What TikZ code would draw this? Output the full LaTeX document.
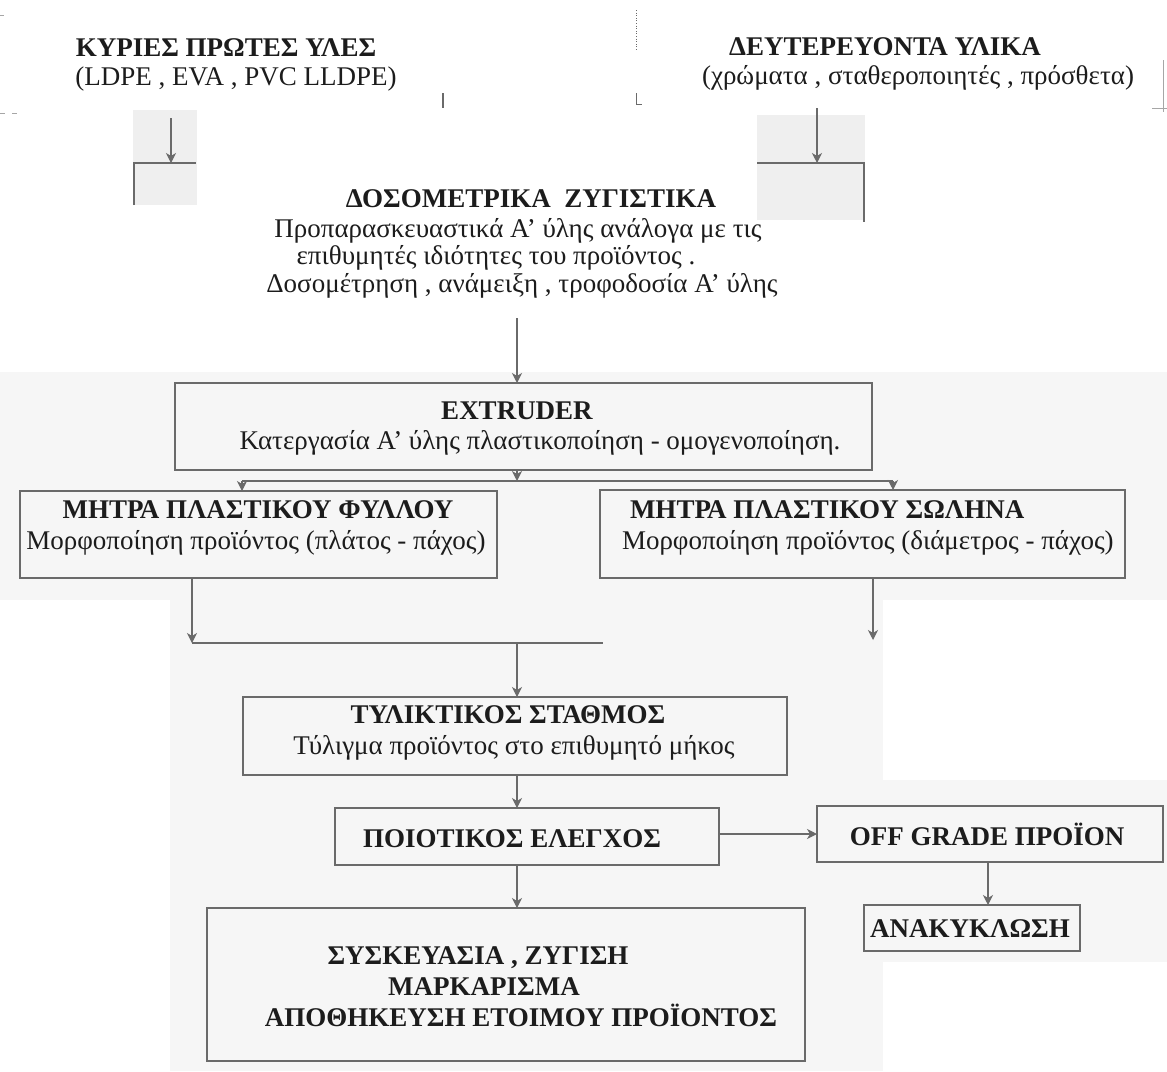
\documentclass[tikz,border=0pt]{standalone}
\usepackage{fontspec}
\setmainfont{Liberation Serif}
\usetikzlibrary{arrows.meta,calc}
\definecolor{ink}{HTML}{1C1C1C}
\definecolor{rule}{HTML}{6A6A6A}
\definecolor{tint}{HTML}{F6F6F6}
\definecolor{patch}{HTML}{EFEFEF}

\begin{document}
\begin{tikzpicture}[x=1pt,y=-1pt,
  every node/.style={inner sep=0pt,outer sep=0pt,text=ink},
  frame/.style={draw=none,inner sep=0pt},
  box/.style={draw=rule,line width=1.1pt,inner sep=0pt},
  head/.style={font=\fontsize{27}{31}\selectfont\bfseries,anchor=base},
  body/.style={font=\fontsize{27}{31}\selectfont,anchor=base},
  wire/.style={draw=rule,line width=1.1pt},
  faint/.style={draw=rule!60,line width=0.8pt},
  arr/.style={wire,-{Stealth[length=10pt,width=10pt,inset=3pt]}},
]
\useasboundingbox (0,0) rectangle (1167,1071);

% faint paper tone behind the process part of the chart
\fill[tint] (0,372) rectangle (1167,600);
\fill[tint] (170,600) rectangle (883,1071);
\fill[tint] (835,780) rectangle (1167,962);
\fill[patch] (133,110) rectangle (197,205);
\fill[patch] (757,115) rectangle (865,220);

% guide columns for the connectors
\coordinate (xa) at (171,0);
\coordinate (xb) at (817,0);
\coordinate (xm) at (517,0);
\coordinate (xl) at (242,0);
\coordinate (xr) at (893,0);
\coordinate (xf) at (192,0);
\coordinate (xs) at (873,0);
\coordinate (xo) at (988,0);

% ---- raw materials -------------------------------------------------
\node[frame,minimum width=441,minimum height=100] (kyries) at (222.5,65) {};
\node[head] (kyriesA) at (226,56) {ΚΥΡΙΕΣ ΠΡΩΤΕΣ ΥΛΕΣ};
\node[body] (kyriesB) at (236,85) {(LDPE , EVA , PVC LLDPE)};
\draw[wire] (443,93) -- (443,108);
\draw[faint] (0,15) -- (4,15);
\draw[faint] (0,113) -- (5,113) (12,113) -- (17,113);

\node[frame,minimum width=528,minimum height=98] (deut) at (898,59) {};
\node[head] (deutA) at (885,55) {ΔΕΥΤΕΡΕΥΟΝΤΑ ΥΛΙΚΑ};
\node[body] (deutB) at (918,84) {(χρώματα , σταθεροποιητές , πρόσθετα)};
\draw[wire,line width=0.6pt,dotted] (636,10) -- (636,50);
\draw[wire,line width=0.8pt] (636,93) -- (636,104) -- (642,104);
\draw[faint] (1163,60) -- (1163,112) (1152,108) -- (1167,108);

% ---- dosing / weighing ---------------------------------------------
\node[frame,minimum width=730,minimum height=155] (doso) at (499,240.5) {};
\node[head] (dosoA) at (531,207) {ΔΟΣΟΜΕΤΡΙΚΑ\ \ ΖΥΓΙΣΤΙΚΑ};
\node[body] (dosoB) at (518,237) {Προπαρασκευαστικά Α' ύλης ανάλογα με τις};
\node[body] (dosoC) at (496,264) {επιθυμητές ιδιότητες του προϊόντος .};
\node[body] (dosoD) at (522,292) {Δοσομέτρηση , ανάμειξη , τροφοδοσία Α' ύλης};
\draw[wire] ($(doso.north west)+(0,42)$) -- (doso.north west) -- ($(doso.north west)+(62,0)$);
\draw[wire] ($(doso.north east)+(-107,0)$) -- (doso.north east) -- ($(doso.north east)+(0,59)$);

\draw[arr] ($(kyries.south -| xa)+(0,3)$) -- (doso.north -| xa);
\draw[arr] (deut.south -| xb) -- (doso.north -| xb);

% ---- extruder --------------------------------------------------------
\node[box,minimum width=697,minimum height=87] (extr) at (523.5,426.5) {};
\node[head] (extrA) at (517,419) {EXTRUDER};
\node[body] (extrB) at (540,449) {Κατεργασία Α' ύλης πλαστικοποίηση - ομογενοποίηση.};
\draw[arr] (doso.south -| xm) -- (extr.north -| xm);

% ---- dies ------------------------------------------------------------
\node[box,minimum width=477,minimum height=87] (fyllo) at (258.5,534.5) {};
\node[head] (fylloA) at (258,518) {ΜΗΤΡΑ ΠΛΑΣΤΙΚΟΥ ΦΥΛΛΟΥ};
\node[body] (fylloB) at (256,549) {Μορφοποίηση προϊόντος (πλάτος - πάχος)};

\node[box,minimum width=525,minimum height=88] (solina) at (862.5,534) {};
\node[head,anchor=base west] (solinaA) at (630,518) {ΜΗΤΡΑ ΠΛΑΣΤΙΚΟΥ ΣΩΛΗΝΑ};
\node[body,anchor=base west] (solinaB) at (622,549) {Μορφοποίηση προϊόντος (διάμετρος - πάχος)};

\coordinate (split) at (517,481);
\draw[arr] (extr.south -| xm) -- (split);
\draw[wire] (split -| xl) -- (split -| xr);
\draw[arr] (split -| xl) -- (fyllo.north -| xl);
\draw[arr] (split -| xr) -- (solina.north -| xr);

% ---- winding station ---------------------------------------------------
\node[box,minimum width=544,minimum height=78] (tyl) at (515,736) {};
\node[head] (tylA) at (508,723) {ΤΥΛΙΚΤΙΚΟΣ ΣΤΑΘΜΟΣ};
\node[body] (tylB) at (514,754) {Τύλιγμα προϊόντος στο επιθυμητό μήκος};

\coordinate (merge) at (517,643);
\coordinate (mergeend) at (603,643);
\draw[arr] (fyllo.south -| xf) -- (merge -| xf);
\draw[wire] (merge -| xf) -- (mergeend);
\draw[arr] (merge) -- (tyl.north -| xm);
\coordinate (tubeout) at (873,640);
\draw[arr] (solina.south -| xs) -- (tubeout);

% ---- quality control ---------------------------------------------------
\node[box,minimum width=384,minimum height=57] (poiot) at (527,836.5) {};
\node[head] (poiotA) at (512,847) {ΠΟΙΟΤΙΚΟΣ ΕΛΕΓΧΟΣ};
\draw[arr] (tyl.south -| xm) -- (poiot.north -| xm);

\node[box,minimum width=346,minimum height=56] (off) at (990,834) {};
\node[head] (offA) at (987,845) {OFF GRADE ΠΡΟΪΟΝ};
\draw[arr] (poiot.east |- off.west) -- (off.west);

\node[box,minimum width=216,minimum height=46] (anak) at (972,928) {};
\node[head] (anakA) at (970,937) {ΑΝΑΚΥΚΛΩΣΗ};
\draw[arr] (off.south -| xo) -- (anak.north -| xo);

% ---- packing -----------------------------------------------------------
\node[box,minimum width=598,minimum height=153] (sysk) at (506,984.5) {};
\node[head] (syskA) at (478,964) {ΣΥΣΚΕΥΑΣΙΑ , ΖΥΓΙΣΗ};
\node[head] (syskB) at (484,995) {ΜΑΡΚΑΡΙΣΜΑ};
\node[head] (syskC) at (521,1026) {ΑΠΟΘΗΚΕΥΣΗ ΕΤΟΙΜΟΥ ΠΡΟΪΟΝΤΟΣ};
\draw[arr] (poiot.south -| xm) -- (sysk.north -| xm);
\end{tikzpicture}
\end{document}
